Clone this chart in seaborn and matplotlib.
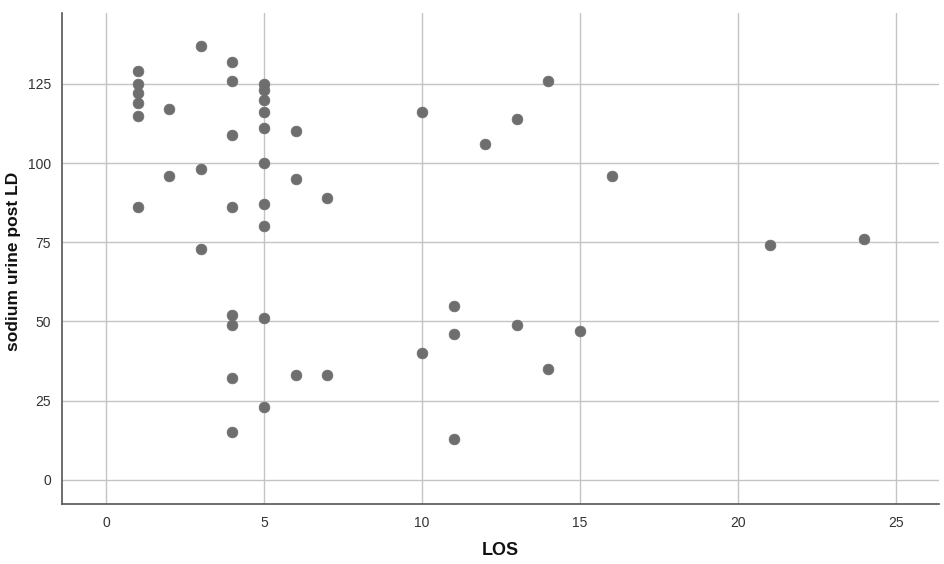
import pandas as pd
import seaborn as sns
from matplotlib import pyplot as plt

# Valori (LOS vs sodio urinario)
los = [1, 1, 1, 1, 1, 1,
       2, 2,
       3, 3, 3,
       4, 4, 4, 4, 4, 4, 4, 4,
       5, 5, 5, 5, 5, 5, 5, 5, 5, 5,
       6, 6, 6,
       7, 7,
       10, 10,
       11, 11, 11,
       12,
       13, 13,
       14, 14,
       15,
       16,
       21,
       24]
sodium = [129, 125, 122, 119, 115, 86,
          117, 96,
          137, 98, 73,
          132, 126, 109, 86, 52, 49, 32, 15,
          125, 123, 120, 116, 111, 100, 87, 80, 51, 23,
          110, 95, 33,
          89, 33,
          116, 40,
          55, 46, 13,
          106,
          114, 49,
          126, 35,
          47,
          96,
          74,
          76]

x_ticks = [0, 5, 10, 15, 20, 25]
y_ticks = [0, 25, 50, 75, 100, 125]

df = pd.DataFrame({"LOS": los, "sodium urine post LD": sodium})

sns.set_theme(style="white")
plt.rcParams["font.family"] = ["Liberation Sans", "DejaVu Sans"]

fig = plt.figure(figsize=(9.45, 5.64), dpi=100)
ax = fig.add_axes([0.0656, 0.1055, 0.928, 0.872])

sns.scatterplot(data=df, x="LOS", y="sodium urine post LD", ax=ax,
                color="#6e6e6e", s=60, edgecolor="#6e6e6e", linewidth=0.5, zorder=3)

ax.set_xlim(-1.39, 26.36)
ax.set_ylim(-7.8, 147.5)
ax.set_xticks(x_ticks)
ax.set_yticks(y_ticks)
ax.tick_params(axis="both", length=0, labelsize=10, colors="#333333", pad=8)
ax.grid(True, color="#c4c4c4", linewidth=1.0, zorder=0)
ax.set_axisbelow(True)

for side in ["top", "right"]:
    ax.spines[side].set_visible(False)
for side in ["left", "bottom"]:
    ax.spines[side].set_color("#555555")
    ax.spines[side].set_linewidth(1.2)

ax.set_xlabel("LOS", fontsize=13, fontweight="bold", color="#111111")
ax.set_ylabel("sodium urine post LD", fontsize=12.5, fontweight="bold", color="#111111")
ax.xaxis.set_label_coords(0.5, -0.077)
ax.yaxis.set_label_coords(-0.047, 0.495)

plt.savefig("out.png", dpi=100)
